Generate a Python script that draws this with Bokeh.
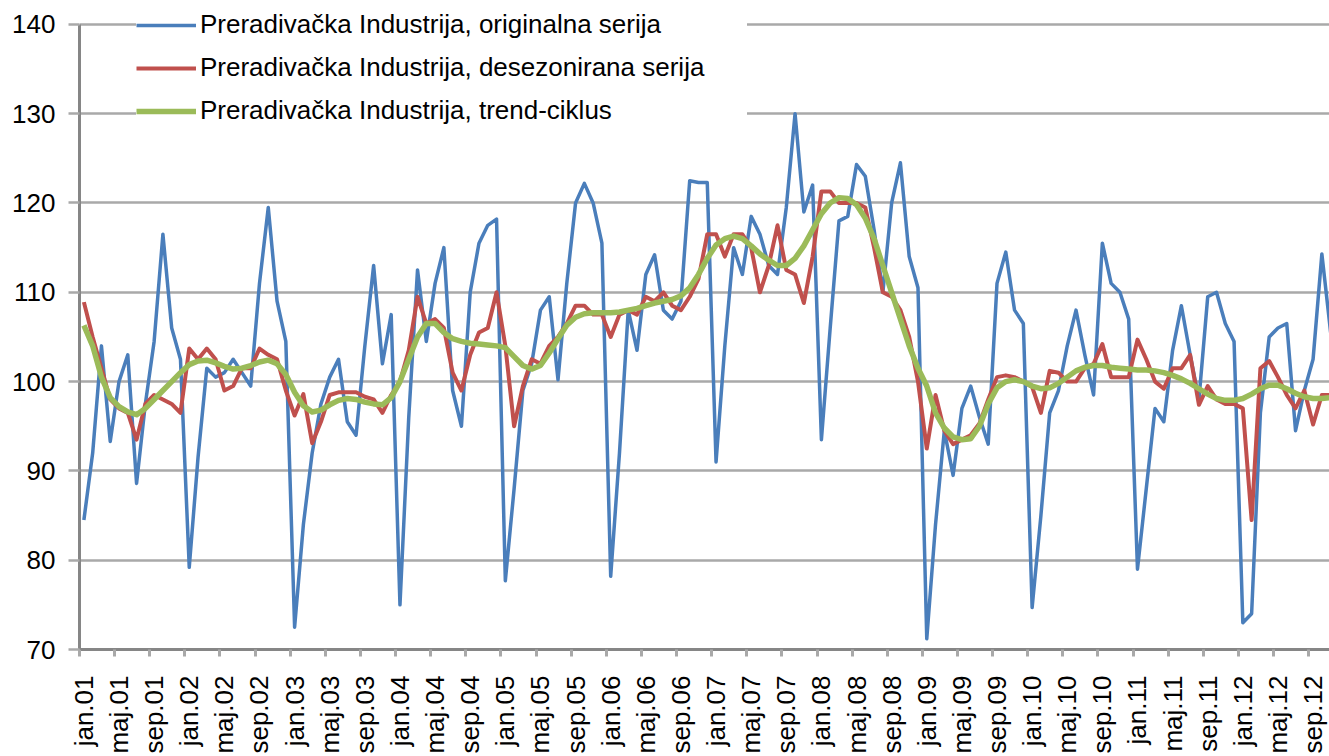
import math
from bokeh.plotting import figure
from bokeh.models import Range1d, FixedTicker, Legend, LegendItem
from bokeh.embed import file_html
from bokeh.resources import INLINE

# x-axis category labels (every 4th month, Jan 2001 .. Sep 2012)
tick_labels = [
    "jan.01", "maj.01", "sep.01", "jan.02", "maj.02", "sep.02",
    "jan.03", "maj.03", "sep.03", "jan.04", "maj.04", "sep.04",
    "jan.05", "maj.05", "sep.05", "jan.06", "maj.06", "sep.06",
    "jan.07", "maj.07", "sep.07", "jan.08", "maj.08", "sep.08",
    "jan.09", "maj.09", "sep.09", "jan.10", "maj.10", "sep.10",
    "jan.11", "maj.11", "sep.11", "jan.12", "maj.12", "sep.12",
]
y_ticks = [70, 80, 90, 100, 110, 120, 130, 140]

series_names = [
    "Preradivačka Industrija, originalna serija",
    "Preradivačka Industrija, desezonirana serija",
    "Preradivačka Industrija, trend-ciklus",
]

# monthly values, Jan 2001 onwards
original = [
    84.5, 92, 104, 93.3, 100, 103, 88.6, 97.5, 104.5, 116.5, 106, 102.5,
    79.2, 91.5, 101.5, 100.5, 101, 102.5, 101, 99.5, 111, 119.5, 109, 104.5,
    72.5, 84, 92, 97.5, 100.5, 102.5, 95.5, 94, 104, 113, 102, 107.5,
    75, 96, 112.5, 104.5, 111, 115, 99, 95, 110, 115.5, 117.5, 118.2,
    77.7, 88, 99, 102, 108, 109.5, 100.2, 111, 120, 122.2, 120, 115.5,
    78.2, 92, 108, 103.5, 112, 114.2, 108, 107, 109, 122.5, 122.3, 122.3,
    91, 104, 115, 112, 118.5, 116.5, 113, 112, 119.5, 130, 119, 122,
    93.5, 106, 118, 118.5, 124.3, 123, 117, 110, 120, 124.5, 114, 110.5,
    71.2, 84, 94.5, 89.5, 97, 99.5, 96, 93, 111, 114.5, 108, 106.5,
    74.7, 85, 96.5, 99, 104, 108, 103, 98.5, 115.5, 111, 110, 107,
    79, 88, 97, 95.5, 103.5, 108.5, 103, 98, 109.5, 110, 106.5, 104.5,
    73, 74, 96.5, 105, 106, 106.5, 94.5, 99, 102.5, 114.3, 105.5,
]
seasonally_adjusted = [
    108.9, 105, 101.5, 98, 97, 96.5, 93.5, 97.5, 98.5, 98, 97.5, 96.5,
    103.7, 102.5, 103.7, 102.5, 99, 99.5, 101.5, 101.5, 103.7, 103, 102.5, 99,
    96.2, 98.6, 93.1, 95.5, 98.5, 98.8, 98.8, 98.8, 98.3, 98, 96.5, 98.5,
    100, 103.5, 109.5, 106.5, 107, 106, 101, 99, 103, 105.5, 106, 110,
    104, 95, 99.5, 102.5, 102, 104, 105, 106.5, 108.5, 108.5, 107.5, 107.5,
    105, 107.5, 108, 107.5, 109.5, 109, 110, 108.5, 108, 109.5, 111.5, 116.5,
    116.5, 114, 116.5, 116.5, 115, 110, 113, 117.5, 112.5, 112, 108.8, 114,
    121.3, 121.3, 120, 120, 120, 119.5, 115, 110, 109.5, 108, 105, 100,
    92.5, 98.5, 94.5, 93, 93.5, 94, 95.3, 98, 100.5, 100.7, 100.5, 100,
    99.4, 96.5, 101.2, 101, 100, 100, 101.5, 102, 104.2, 100.5, 100.5, 100.5,
    104.7, 102.5, 100, 99.2, 101.5, 101.5, 103, 97.4, 99.5, 98, 97.5, 97.5,
    97, 84.5, 101.5, 102.3, 100.5, 98.5, 97, 99, 95.2, 98.5, 98.5,
]
trend_cycle = [
    106.3, 104, 100.5, 98.2, 97.2, 96.6, 96.3, 97, 98, 99, 100, 101,
    101.9, 102.3, 102.4, 102.1, 101.7, 101.4, 101.5, 101.8, 102.2, 102.4, 102, 100.8,
    98.8, 97.3, 96.6, 96.8, 97.4, 97.9, 98.1, 98, 97.7, 97.5, 97.4, 98.2,
    100, 102.5, 105, 106.5, 106.5, 105.5, 104.8, 104.5, 104.3, 104.2, 104.1, 104,
    103.8, 102.8, 101.8, 101.4, 101.8, 103.2, 104.8, 106.3, 107.2, 107.6, 107.7, 107.7,
    107.7, 107.8, 108, 108.2, 108.5, 108.8, 109, 109.2, 109.6, 110.5, 112, 113.8,
    115.3, 116, 116.3, 116, 115.2, 114.3, 113.6, 113, 113, 113.8, 115.2, 117,
    118.8, 120, 120.6, 120.5, 119.8, 118.3, 116, 113, 110, 107, 104, 101.5,
    99.5, 96.5, 94.8, 93.8, 93.5, 93.6, 95, 97.5, 99.3, 100, 100.2, 100,
    99.5, 99.2, 99.3, 99.8, 100.5, 101.2, 101.6, 101.8, 101.8, 101.6, 101.5, 101.4,
    101.3, 101.3, 101.2, 101, 100.7, 100.3, 99.8, 99.2, 98.6, 98.1, 97.9, 97.9,
    98.1, 98.6, 99.2, 99.6, 99.6, 99.2, 98.7, 98.3, 98.1, 98.1, 98.2,
]

months = list(range(len(original)))
label_pos = [4 * k for k in range(len(tick_labels))]
boundaries = [pos - 0.5 for pos in label_pos]

FONT = "Liberation Sans"
Y_MIN, Y_MAX = 70, 140
# the frame reaches the top of the canvas so the legend is not clipped;
# 24px of headroom above the 140 line
y_top = Y_MAX + 24 * (Y_MAX - Y_MIN) / 628

p = figure(
    width=1329, height=756,
    output_backend="svg", toolbar_location=None,
    x_range=Range1d(-0.5, 141.87), y_range=Range1d(Y_MIN, y_top),
    min_border_left=79, min_border_right=0, min_border_top=0, min_border_bottom=104,
)
p.outline_line_color = None
p.background_fill_color = "white"
p.border_fill_color = "white"

r_orig = p.line(months, original, line_color="#4A7EBB", line_width=3.5, line_join="round")
r_sa = p.line(months, seasonally_adjusted, line_color="#C0504D", line_width=4, line_join="round")
r_tc = p.line(months, trend_cycle, line_color="#9BBB59", line_width=5.5, line_join="round")

# grid
p.xgrid.visible = False
p.ygrid.ticker = FixedTicker(ticks=y_ticks)
p.ygrid.grid_line_color = "#a9a9a9"
p.ygrid.grid_line_width = 2.5

# y axis
ya = p.yaxis[0]
ya.ticker = FixedTicker(ticks=y_ticks)
ya.bounds = (Y_MIN, Y_MAX)
ya.axis_line_color = "#868686"
ya.axis_line_width = 3
ya.major_tick_out = 11
ya.major_tick_in = 0
ya.major_tick_line_color = "#a9a9a9"
ya.major_tick_line_width = 2.5
ya.minor_tick_line_color = None
ya.major_label_standoff = 13
ya.major_label_text_font = FONT
ya.major_label_text_font_size = "26px"
ya.major_label_text_color = "black"

# x axis
xa = p.xaxis[0]
xa.ticker = FixedTicker(ticks=label_pos, minor_ticks=boundaries)
xa.major_label_overrides = {pos: lab for pos, lab in zip(label_pos, tick_labels)}
xa.major_label_orientation = math.pi / 2
xa.axis_line_color = "#868686"
xa.axis_line_width = 3
xa.major_tick_line_color = None
xa.major_tick_out = 0
xa.major_tick_in = 0
xa.minor_tick_out = 7
xa.minor_tick_in = 0
xa.minor_tick_line_color = "#a9a9a9"
xa.minor_tick_line_width = 3
xa.major_label_standoff = 19
xa.major_label_text_font = FONT
xa.major_label_text_font_size = "26px"
xa.major_label_text_color = "black"

legend = Legend(
    items=[
        LegendItem(label=series_names[0], renderers=[r_orig]),
        LegendItem(label=series_names[1], renderers=[r_sa]),
        LegendItem(label=series_names[2], renderers=[r_tc]),
    ],
    location=(57, 523),
    padding=0, spacing=12, margin=0,
    glyph_width=60, glyph_height=30, label_height=30, label_width=547, label_standoff=4,
    label_text_font=FONT, label_text_font_size="26px", label_text_color="black",
    border_line_color=None, background_fill_color="white", background_fill_alpha=1.0,
)
p.add_layout(legend)

open("out.html", "w").write(file_html(p, INLINE))
